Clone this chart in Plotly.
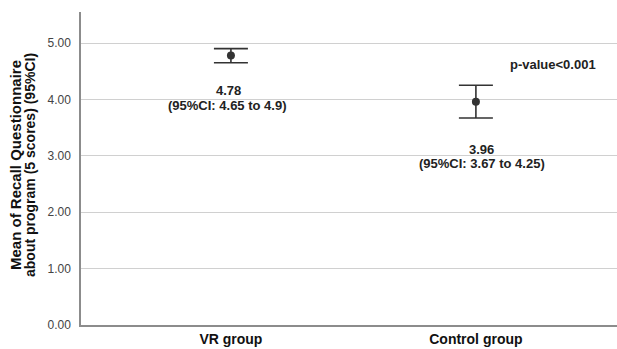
import plotly.graph_objects as go

groups = ["VR group", "Control group"]
means = [4.78, 3.96]
ci_low = [4.65, 3.67]
ci_high = [4.90, 4.25]
mean_labels = ["4.78", "3.96"]
ci_labels = ["(95%CI: 4.65 to 4.9)", "(95%CI: 3.67 to 4.25)"]
y_ticks = [0, 1, 2, 3, 4, 5]
y_tick_text = ["0.00", "1.00", "2.00", "3.00", "4.00", "5.00"]
p_text = "p-value<0.001"

xpos = list(range(len(groups)))
FONT = "Liberation Sans, Arial, sans-serif"
dark = "#333333"

fig = go.Figure()
fig.add_trace(go.Scatter(
    x=xpos, y=means, mode="markers",
    marker=dict(size=8, color=dark),
    error_y=dict(type="data", symmetric=False,
                 array=[h - m for h, m in zip(ci_high, means)],
                 arrayminus=[m - l for m, l in zip(means, ci_low)],
                 color=dark, thickness=1.6, width=17),
    showlegend=False, hoverinfo="skip",
))

shifts = [(28, 43, -2, -3), (31, 45, 6, 6)]
for i in xpos:
    s1, s2, xs1, xs2 = shifts[i]
    fig.add_annotation(x=i, y=ci_low[i], text="<b>%s</b>" % mean_labels[i],
                       showarrow=False, yshift=-s1, xshift=xs1,
                       xanchor="center", yanchor="middle",
                       font=dict(family=FONT, size=13, color="#222"))
    fig.add_annotation(x=i, y=ci_low[i], text="<b>%s</b>" % ci_labels[i],
                       showarrow=False, yshift=-s2, xshift=xs2,
                       xanchor="center", yanchor="middle",
                       font=dict(family=FONT, size=13, color="#222"))

fig.add_annotation(xref="paper", yref="paper", x=(553 - 81) / 536, y=(325 - 64) / 313,
                   text="<b>%s</b>" % p_text, showarrow=False,
                   xanchor="center", yanchor="middle",
                   font=dict(family=FONT, size=13, color="#222"))

# y-axis title as two rotated lines
fig.add_annotation(xref="paper", yref="paper", x=-(81 - 15) / 536, y=(325 - 165) / 313,
                   text="<b>Mean of Recall Questionnaire</b>", textangle=-90,
                   xanchor="center", yanchor="middle",
                   showarrow=False, font=dict(family=FONT, size=15, color="#111"))
fig.add_annotation(xref="paper", yref="paper", x=-(81 - 30) / 536, y=(325 - 165) / 313,
                   text="<b>about program (5 scores) (95%CI)</b>", textangle=-90,
                   xanchor="center", yanchor="middle",
                   showarrow=False, font=dict(family=FONT, size=14, color="#111"))

fig.update_layout(
    width=617, height=349,
    margin=dict(l=81, r=0, t=12, b=24),
    plot_bgcolor="white", paper_bgcolor="white",
    xaxis=dict(range=[-0.612, 1.576], tickvals=xpos,
               ticktext=["<b>%s</b>" % g for g in groups],
               showgrid=False, zeroline=False, showline=True,
               linecolor="#8c8c8c", linewidth=1.5, ticks="",
               tickfont=dict(family=FONT, size=14, color="#111")),
    yaxis=dict(range=[0, 5.55], tickvals=y_ticks, ticktext=y_tick_text,
               showgrid=True, gridcolor="#d0d0d0", gridwidth=1.2,
               zeroline=False, showline=True, linecolor="#8c8c8c", linewidth=1.5,
               ticks="", ticklabelstandoff=6,
               tickfont=dict(family=FONT, size=12, color="#444")),
)

fig.write_html("out.html", config={"displayModeBar": False},
               post_script="document.body.style.margin='0';document.body.style.padding='0';")
